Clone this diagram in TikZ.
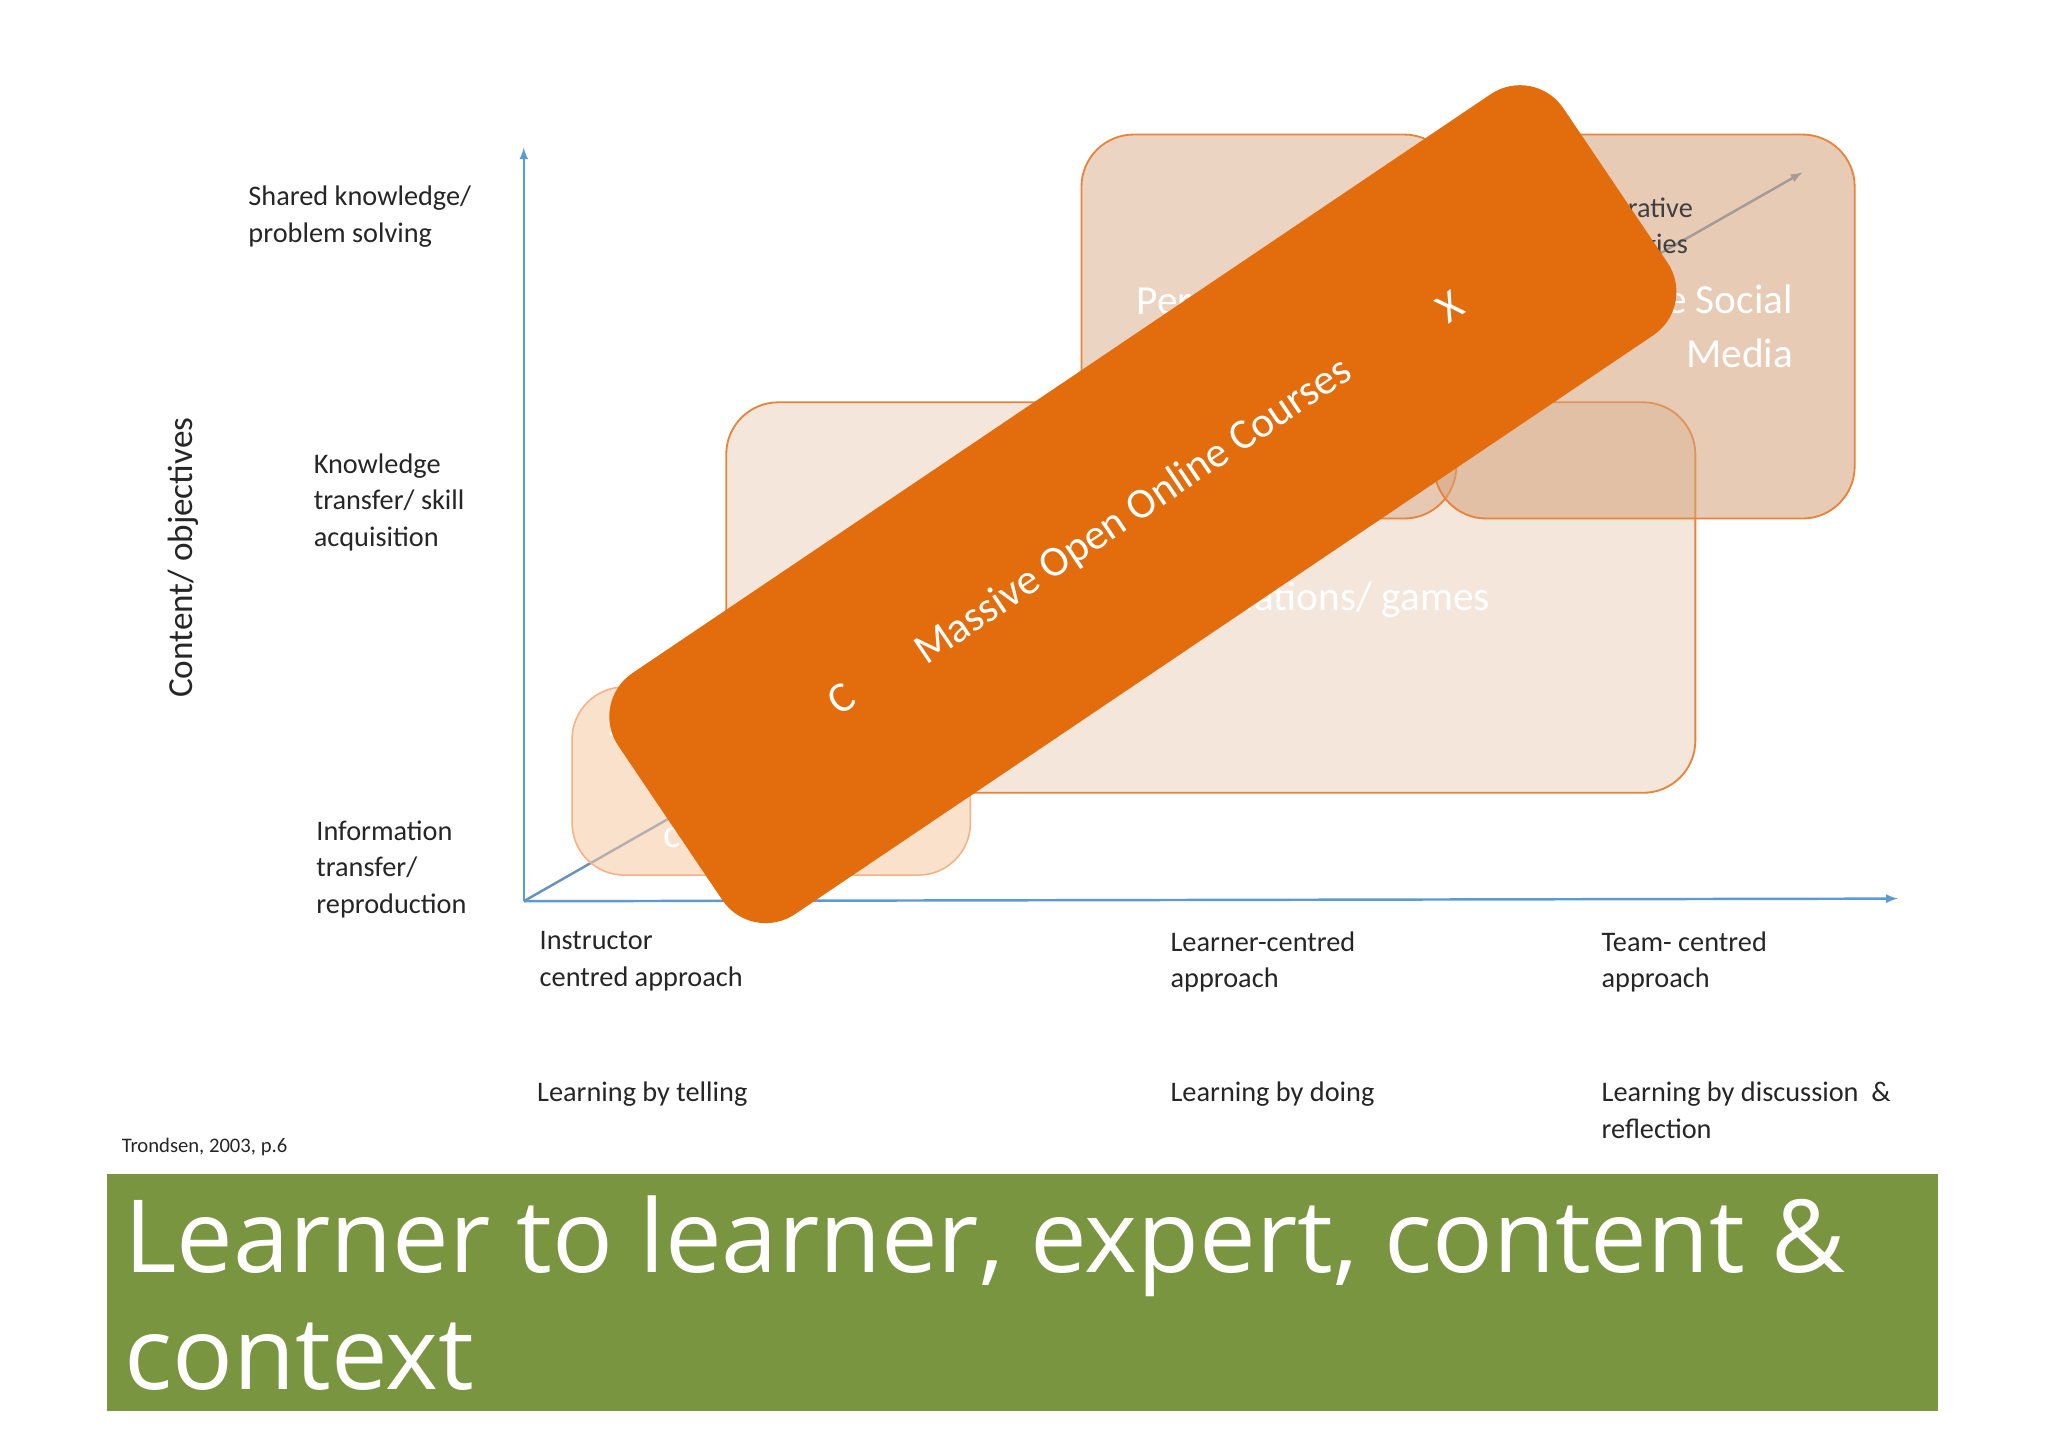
\documentclass[tikz,border=0pt]{standalone}
\usepackage{fontspec}
\setmainfont{Carlito}
\newfontfamily\titlefont{Open Sans}
\definecolor{axblue}{HTML}{5B9BD5}
\definecolor{mooc}{HTML}{E36C0C}
\definecolor{band}{HTML}{7A9540}
\definecolor{fa}{HTML}{F7C9A3}
\definecolor{da}{HTML}{F4B183}
\definecolor{fb}{HTML}{EBD2BF}
\definecolor{fc}{HTML}{DDB193}
\definecolor{fd}{HTML}{D4A27A}
\definecolor{ob}{HTML}{E8833A}
\begin{document}
\begin{tikzpicture}[x=0.3mm,y=-0.3mm,
  lab/.style={font=\fontsize{18.5}{24}\selectfont,text=black!85,align=left,anchor=north west,inner sep=0pt},
  boxa/.style={rounded corners=12mm,fill opacity=0.55},
  boxline/.style={rounded corners=12mm,draw=ob,line width=1.2pt},
  wt/.style={text=white,font=\fontsize{27}{35}\selectfont,inner sep=0pt,align=left},
  axis/.style={draw=axblue,line width=1.6pt,-latex}]
\useasboundingbox (0,0) rectangle (1568,1108);
\fill[white] (0,0) rectangle (1568,1108);
% axes
\coordinate (O) at (401,690);
\coordinate (Ytop) at (401,113);
\coordinate (Xend) at (1453,688);
\coordinate (Dend) at (1380,132);
\draw[axis] (O) -- (Ytop);
\draw[axis] (O) -- (Xend);
\draw[draw=axblue!70!gray,line width=1.6pt,-latex] (O) -- (Dend);
% boxes
\fill[boxa,fill=fa] (438,526) rectangle (743,670);
\draw[boxline,draw=da,line width=1pt] (438,526) rectangle (743,670);
\node[wt,anchor=west] (t1) at (466,556) {Self-paced};
\node[wt,anchor=west] (t1b) at (508,641) {courseware};
\fill[boxa,fill=fb] (556,308) rectangle (1298,607);
\draw[boxline] (556,308) rectangle (1298,607);
\node[wt,anchor=east] (t2) at (1141,459) {Simulations/ games};
\fill[boxa,fill=fc] (828,103) rectangle (1115,397);
\draw[boxline] (828,103) rectangle (1115,397);
\node[wt,anchor=west] (t3) at (870,230) {Personalised};
\fill[boxa,fill=fd] (1098,103) rectangle (1420,397);
\draw[boxline] (1098,103) rectangle (1420,397);
\node[lab,text=black!75] (t4) at (1180,151) {Collaborative\\technologies};
\node[wt,anchor=east,align=right] (t5) at (1373,250) {Online Social\\Media\hspace{2.6em}};
% MOOC band
\node[fill=mooc,rounded corners=12mm,minimum width=745,minimum height=190,inner sep=0pt,rotate=34] (mooc) at (875,386) {};
\node[text=white,font=\fontsize{28}{32}\selectfont,rotate=34] (mt) at (868,392) {Massive Open Online Courses};
\node[text=white,font=\fontsize{28}{32}\selectfont,rotate=34] (mc) at (644,535) {C};
\node[text=white,font=\fontsize{28}{32}\selectfont,rotate=34] (mx) at (1110,235) {X};
% labels
\node[lab] (l1) at (190,142) {Shared knowledge/\\problem solving};
\node[lab] (l2) at (240,347) {Knowledge\\transfer/ skill\\acquisition};
\node[lab] (l3) at (242,628) {Information\\transfer/\\reproduction};
\node[font=\fontsize{23}{26}\selectfont,rotate=90,text=black!85] (yl) at (140,427) {Content/ objectives};
\node[lab] (x1) at (413,713) {Instructor\\centred approach};
\node[lab] (x2) at (896,713) {Learner-centred\\approach};
\node[lab] (x3) at (1226,713) {Team- centred\\approach};
\node[lab] (b1) at (411,828) {Learning by telling};
\node[lab] (b2) at (896,828) {Learning by doing};
\node[lab] (b3) at (1226,828) {Learning by discussion~~\&\\reflection};
\node[lab,font=\fontsize{13.5}{15}\selectfont] (src) at (93,871) {Trondsen, 2003, p.6};
% title band
\fill[band] (82,899) rectangle (1484,1080);
\node[text=white,font=\titlefont\fontsize{66}{80}\selectfont,anchor=base west,inner sep=0pt] (ti1) at (95,974) {Learner to learner, expert, content \&};
\node[text=white,font=\titlefont\fontsize{66}{80}\selectfont,anchor=base west,inner sep=0pt] (ti2) at (95,1064) {context};
\end{tikzpicture}
\end{document}
